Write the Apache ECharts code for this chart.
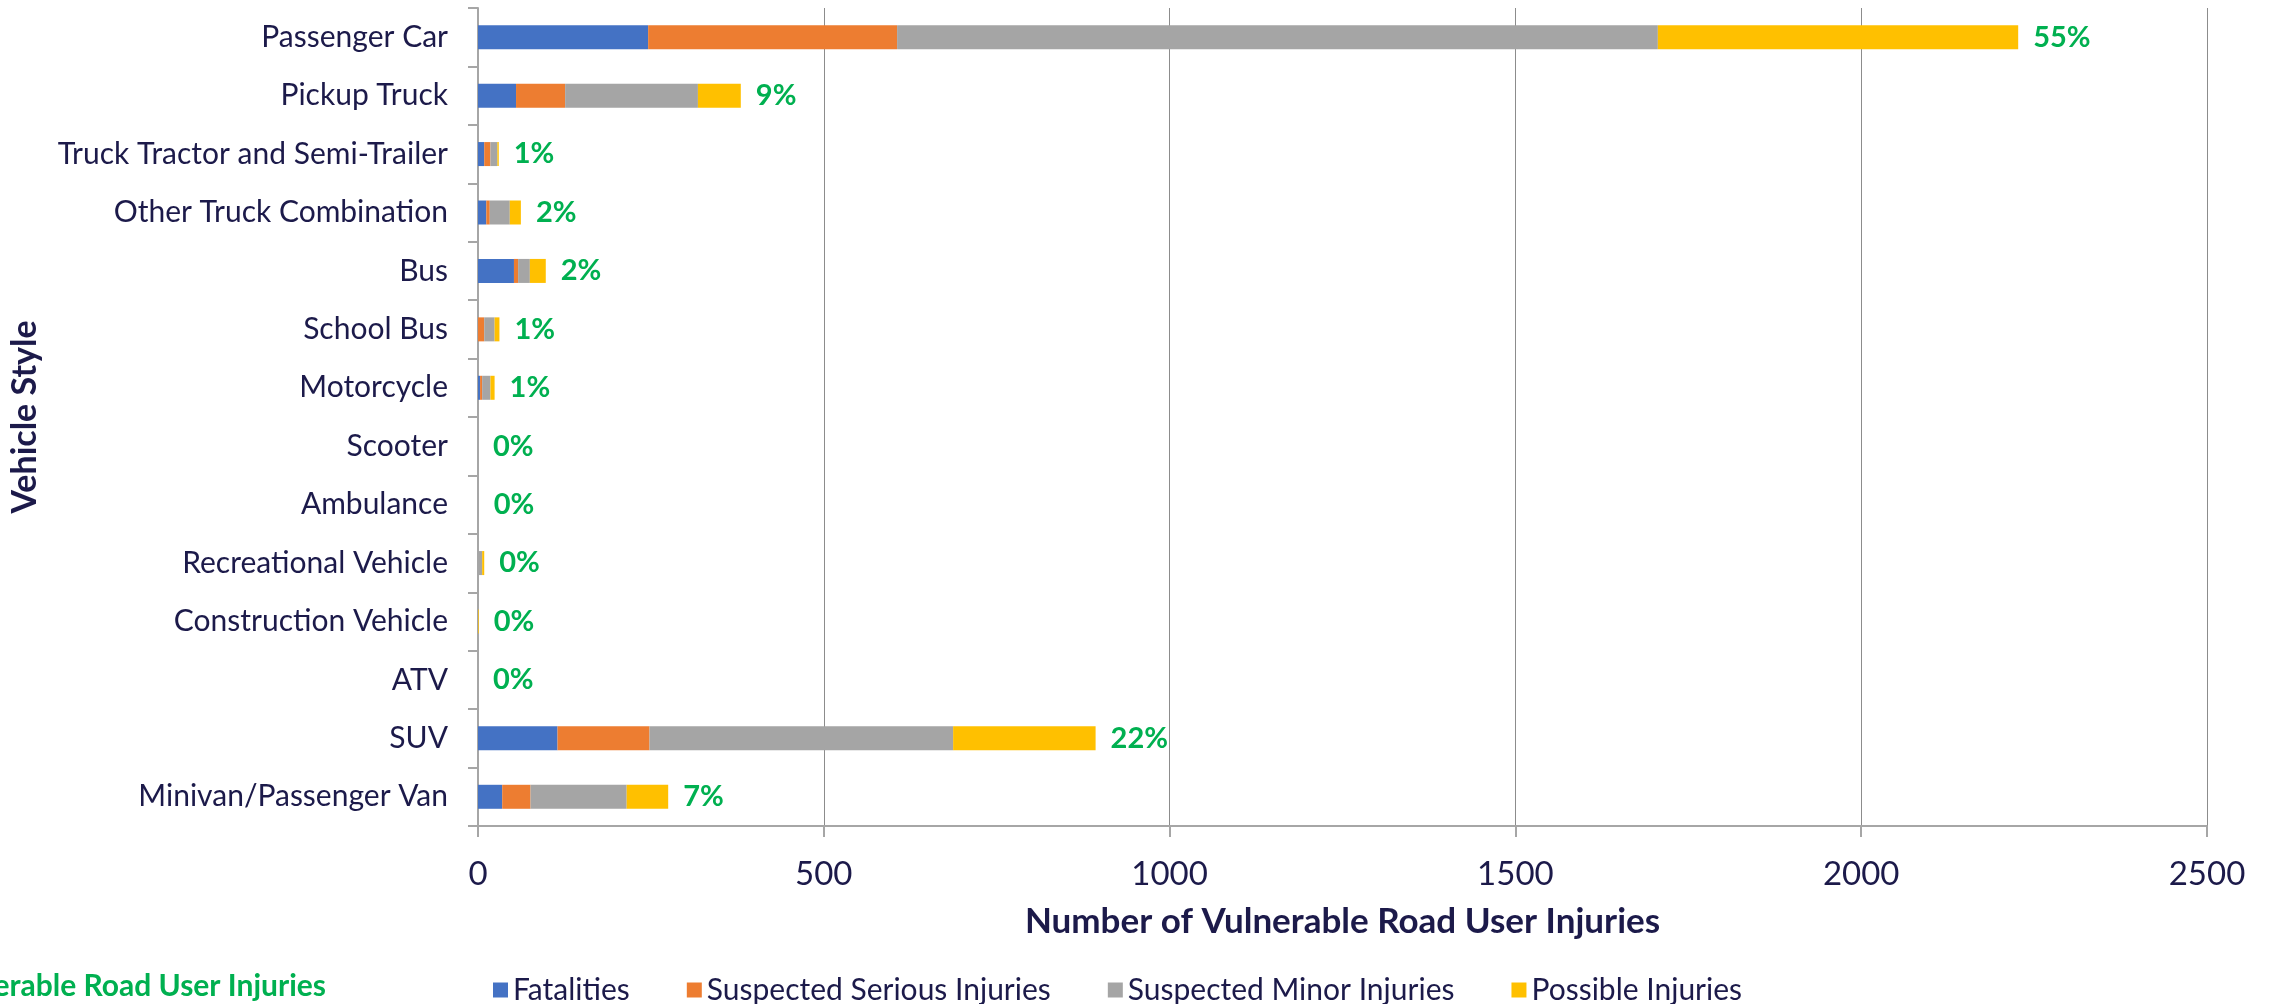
<!DOCTYPE html>
<html>
<head>
<meta charset="utf-8">
<script src="https://cdn.jsdelivr.net/npm/echarts@6/dist/echarts.min.js"></script>
<style>
html, body { margin: 0; padding: 0; background: #fff; }
#chart { width: 2272px; height: 1004px; }
</style>
</head>
<body>
<div id="chart"></div>
<script>
// vehicle styles, top to bottom
const categories = ['Passenger Car', 'Pickup Truck', 'Truck Tractor and Semi-Trailer', 'Other Truck Combination',
    'Bus', 'School Bus', 'Motorcycle', 'Scooter', 'Ambulance', 'Recreational Vehicle',
    'Construction Vehicle', 'ATV', 'SUV', 'Minivan/Passenger Van']
const fatalities      = [246, 55, 9, 12, 52, 0, 3, 0, 0, 0, 0, 0, 115, 35]
const seriousInjuries = [360, 71, 9, 5, 6, 9, 3, 0, 0, 0, 0, 0, 133, 41]
const minorInjuries   = [1100, 192, 10, 29, 17, 15, 12, 0, 1, 6, 0, 0, 439, 139]
const possibleInjuries = [521, 62, 2, 16, 23, 7, 6, 0, 0, 3, 1, 0, 206, 60]
const pctLabels = ['55%', '9%', '1%', '2%', '2%', '1%', '1%', '0%', '0%', '0%', '0%', '0%', '22%', '7%']
const xTicks = [0, 500, 1000, 1500, 2000, 2500]

const textColor = '#1c1a4a'
const font = 'Lato'

let myChart = echarts.init(document.getElementById('chart'))

function makeSeries(name, data, color) {
    return {
        name: name,
        type: 'bar',
        stack: 'total',
        barWidth: 24,
        data: data,
        itemStyle: { color: color },
        animation: false
    }
}

let series = [
    makeSeries('Fatalities', fatalities, '#4472c4'),
    makeSeries('Suspected Serious Injuries', seriousInjuries, '#ed7d31'),
    makeSeries('Suspected Minor Injuries', minorInjuries, '#a5a5a5'),
    makeSeries('Possible Injuries', possibleInjuries, '#ffc000')
]
// percent share label at end of each stack
series[3].label = {
    show: true,
    position: 'right',
    distance: 15,
    color: '#00b050',
    fontFamily: font,
    fontWeight: 'bold',
    fontSize: 29,
    formatter: (p) => pctLabels[p.dataIndex]
}

let option = {
    animation: false,
    grid: {
        left: 478,
        right: 65,
        top: 8,
        bottom: 178,
        outerBoundsMode: 'none'
    },
    xAxis: {
        type: 'value',
        min: xTicks[0],
        max: xTicks[xTicks.length - 1],
        interval: 500,
        name: 'Number of Vulnerable Road User Injuries',
        nameLocation: 'middle',
        nameGap: 78,
        nameTextStyle: { color: textColor, fontFamily: font, fontWeight: 'bold', fontSize: 35 },
        axisLine: { show: true, lineStyle: { color: '#a6a6a6', width: 2 } },
        axisTick: { show: true, length: 11, lineStyle: { color: '#a6a6a6', width: 2 } },
        axisLabel: { color: textColor, fontFamily: font, fontSize: 33, margin: 32, formatter: (v) => String(v) },
        splitLine: { show: true, lineStyle: { color: '#8c8c8c', width: 1 } }
    },
    yAxis: {
        type: 'category',
        inverse: true,
        data: categories,
        name: 'Vehicle Style',
        nameLocation: 'middle',
        nameGap: 436,
        nameTextStyle: { color: textColor, fontFamily: font, fontWeight: 'bold', fontSize: 34 },
        axisLine: { show: true, lineStyle: { color: '#a6a6a6', width: 2 } },
        axisTick: { show: true, length: 10, lineStyle: { color: '#a6a6a6', width: 2 } },
        axisLabel: { color: textColor, fontFamily: font, fontSize: 30, margin: 30 }
    },
    legend: {
        left: 488,
        top: 970,
        itemWidth: 15,
        itemHeight: 15,
        itemGap: 57,
        icon: 'rect',
        textStyle: { color: textColor, fontFamily: font, fontSize: 30 },
        data: ['Fatalities', 'Suspected Serious Injuries', 'Suspected Minor Injuries', 'Possible Injuries']
    },
    graphic: [
        {
            type: 'text',
            right: 2272 - 326,
            top: 971,
            style: {
                text: '% of Total Vulnerable Road User Injuries',
                fill: '#00b050',
                font: 'bold 30px Lato',
                textAlign: 'right'
            }
        }
    ],
    series: series
}

option && myChart.setOption(option)
</script>
</body>
</html>
